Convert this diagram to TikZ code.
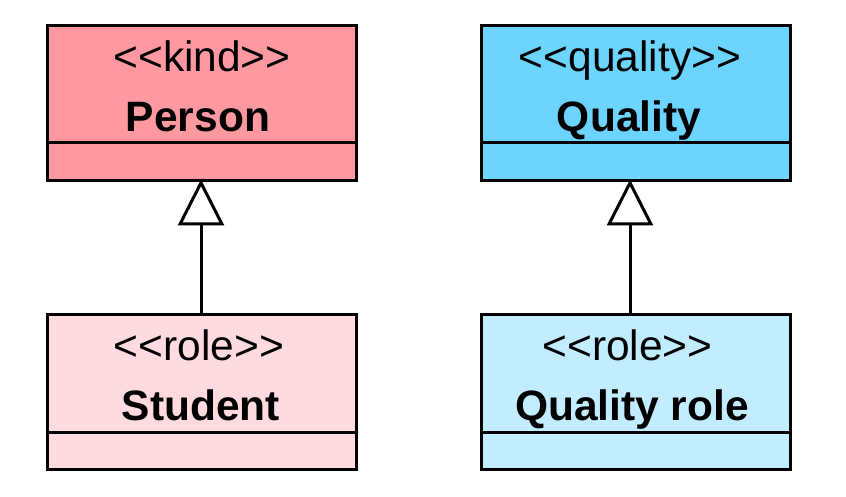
\documentclass[tikz,border=0pt]{standalone}
\usepackage{fontspec}
\setmainfont{Liberation Sans}
\usetikzlibrary{arrows.meta}
\definecolor{kindc}{RGB}{255,153,161}
\definecolor{rolepink}{RGB}{255,218,222}
\definecolor{qualc}{RGB}{108,213,255}
\definecolor{roleblue}{RGB}{194,236,255}
\tikzset{
  part/.style={draw=black, line width=3pt, rectangle, minimum width=309pt, inner sep=0pt, outer sep=0pt},
  toppart/.style={part, minimum height=117.5pt, anchor=north west},
  botpart/.style={part, minimum height=37.5pt, anchor=north},
  stereo/.style={anchor=base, inner sep=0pt, font=\fontsize{42.5}{50}\selectfont},
  cname/.style={anchor=base, inner sep=0pt, font=\fontsize{42.5}{50}\selectfont\bfseries},
  gen/.style={line width=3pt, -{Triangle[open, length=46pt, width=46pt, line width=3pt]}, shorten >=-1pt}
}
\begin{document}
\begin{tikzpicture}[x=1pt,y=-1pt]
\useasboundingbox (0,0) rectangle (846,497);
% Person
\node[toppart, fill=kindc] (persontop) at (47.5,25.5) {};
\node[botpart, fill=kindc] (personbot) at (persontop.south) {};
\node[stereo] (personst) at ([yshift=-46pt]persontop.north) {<{}<kind>{}>};
\node[cname] (personnm) at ([xshift=-4pt,yshift=-106pt]persontop.north) {Person};
% Quality
\node[toppart, fill=qualc] (qualtop) at (481,25.5) {};
\node[botpart, fill=qualc] (qualbot) at (qualtop.south) {};
\node[stereo] (qualst) at ([xshift=-5.5pt,yshift=-46pt]qualtop.north) {<{}<quality>{}>};
\node[cname] (qualnm) at ([xshift=-6.5pt,yshift=-106pt]qualtop.north) {Quality};
% Student
\node[toppart, fill=rolepink] (studtop) at (47.5,314.5) {};
\node[botpart, fill=rolepink] (studbot) at (studtop.south) {};
\node[stereo] (studst) at ([xshift=-3pt,yshift=-46pt]studtop.north) {<{}<role>{}>};
\node[cname] (studnm) at ([xshift=-1pt,yshift=-106pt]studtop.north) {Student};
% Quality role
\node[toppart, fill=roleblue] (qroletop) at (481,314.5) {};
\node[botpart, fill=roleblue] (qrolebot) at (qroletop.south) {};
\node[stereo] (qrolest) at ([xshift=-8pt,yshift=-46pt]qroletop.north) {<{}<role>{}>};
\node[cname] (qrolenm) at ([xshift=-3.5pt,yshift=-106pt]qroletop.north) {Quality role};
% generalization end points
\coordinate (pa) at ([xshift=-1pt]personbot.south);
\coordinate (sa) at ([xshift=-1pt]studtop.north);
\coordinate (qa) at ([xshift=-5.5pt]qualbot.south);
\coordinate (ra) at ([xshift=-5.5pt]qroletop.north);
% generalizations
\draw[gen] (sa) -- (pa);
\draw[gen] (ra) -- (qa);
\end{tikzpicture}
\end{document}
